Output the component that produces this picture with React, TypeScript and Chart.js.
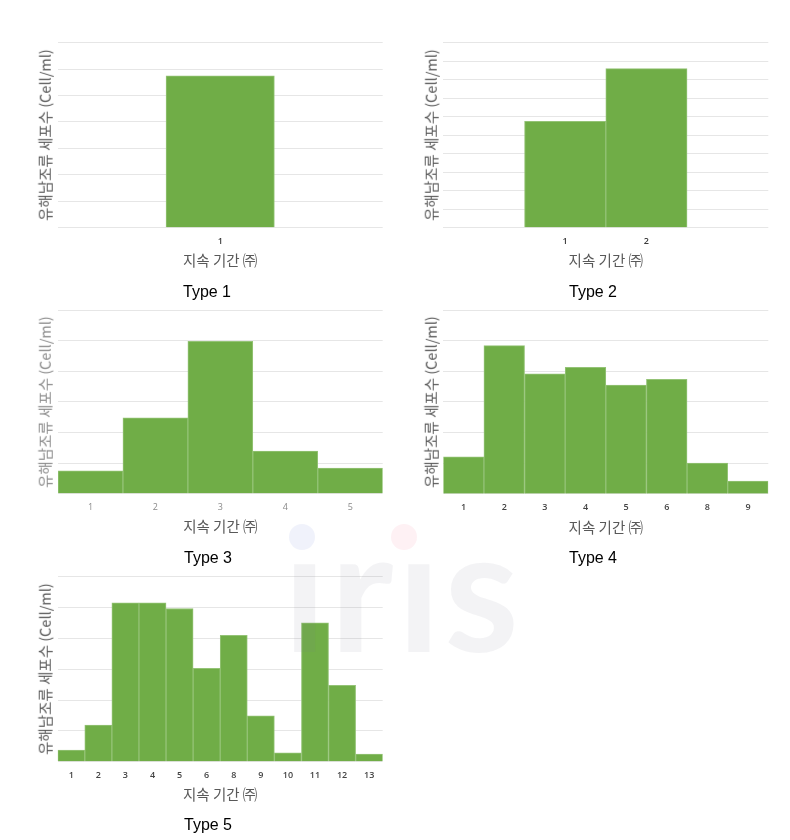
import React, { useEffect, useRef } from 'react';
import { Chart, registerables } from 'chart.js';

Chart.register(...registerables);

const Y_TITLE = '유해남조류 세포수 (Cell/ml)';
const X_TITLE = '지속 기간 ㈜';

const TYPE1_LABELS = ['', '1', ''];
const TYPE1_VALUES = [null, 5.75, null];

const TYPE2_LABELS = ['', '1', '2', ''];
const TYPE2_VALUES = [null, 5.75, 8.6, null];

const TYPE3_LABELS = ['1', '2', '3', '4', '5'];
const TYPE3_VALUES = [0.75, 2.48, 4.98, 1.39, 0.84];

const TYPE4_LABELS = ['1', '2', '3', '4', '5', '6', '8', '9'];
const TYPE4_VALUES = [1.21, 4.84, 3.92, 4.13, 3.55, 3.74, 1.01, 0.42];

const TYPE5_LABELS = ['1', '2', '3', '4', '5', '6', '8', '9', '10', '11', '12', '13'];
const TYPE5_VALUES = [0.38, 1.19, 5.15, 5.15, 4.97, 3.03, 4.1, 1.49, 0.29, 4.5, 2.48, 0.25];

const Y_MAX = [7, 10, 6, 6, 6];
const PANEL_TITLES = ['Type 1', 'Type 2', 'Type 3', 'Type 4', 'Type 5'];

type Plot = { L: number; T: number; R: number; B: number };

const PANELS: {
  labels: string[];
  values: (number | null)[];
  yMax: number;
  plot: Plot;
  title: string;
  tx: number;
  ty: number;
  tickColor: string;
  tickWeight: number;
  yTitleColor: string;
}[] = [
  { labels: TYPE1_LABELS, values: TYPE1_VALUES, yMax: Y_MAX[0], plot: { L: 57.7, T: 42.7, R: 382.7, B: 227.7 }, title: PANEL_TITLES[0], tx: 207, ty: 292, tickColor: '#3a3a3a', tickWeight: 600, yTitleColor: '#595959' },
  { labels: TYPE2_LABELS, values: TYPE2_VALUES, yMax: Y_MAX[1], plot: { L: 443.3, T: 42.7, R: 768.3, B: 227.7 }, title: PANEL_TITLES[1], tx: 593, ty: 292, tickColor: '#3a3a3a', tickWeight: 600, yTitleColor: '#595959' },
  { labels: TYPE3_LABELS, values: TYPE3_VALUES, yMax: Y_MAX[2], plot: { L: 58, T: 310, R: 382.7, B: 493.7 }, title: PANEL_TITLES[2], tx: 208, ty: 558, tickColor: '#8a8a8a', tickWeight: 400, yTitleColor: '#8c8c8c' },
  { labels: TYPE4_LABELS, values: TYPE4_VALUES, yMax: Y_MAX[3], plot: { L: 443.3, T: 310, R: 768.3, B: 494 }, title: PANEL_TITLES[3], tx: 593, ty: 558, tickColor: '#444', tickWeight: 600, yTitleColor: '#595959' },
  { labels: TYPE5_LABELS, values: TYPE5_VALUES, yMax: Y_MAX[4], plot: { L: 57.7, T: 576.7, R: 382.7, B: 761.7 }, title: PANEL_TITLES[4], tx: 208, ty: 825, tickColor: '#444', tickWeight: 600, yTitleColor: '#595959' },
];

const AXIS_TITLE_FONT = "'Noto Sans CJK KR', 'Noto Sans', sans-serif";
const TICK_PAD = 8;
const X_AXIS_H = 2 * TICK_PAD + 9 * 1.2;

function BarPanel(p: (typeof PANELS)[number]) {
  const ref = useRef<HTMLCanvasElement>(null);
  const { plot } = p;
  const cl = Math.round(plot.L - 10);
  const ct = Math.round(plot.T - 10);
  const cr = Math.round(plot.R + 10);
  const cb = Math.round(plot.B + 40);
  const w = cr - cl;
  const h = cb - ct;
  useEffect(() => {
    const chart = new Chart(ref.current as HTMLCanvasElement, {
      type: 'bar',
      data: {
        labels: p.labels,
        datasets: [
          {
            data: p.values as any,
            backgroundColor: '#70ad47',
            borderColor: '#94c376',
            borderWidth: 1,
            barPercentage: 1,
            categoryPercentage: 1,
          },
        ],
      },
      options: {
        animation: false,
        responsive: false,
        maintainAspectRatio: false,
        layout: {
          padding: {
            left: plot.L - cl,
            top: plot.T - ct,
            right: cr - plot.R,
            bottom: cb - (plot.B + X_AXIS_H),
          },
        },
        plugins: { legend: { display: false }, tooltip: { enabled: false } },
        scales: {
          x: {
            grid: { display: false, drawTicks: false },
            border: { display: false },
            ticks: {
              padding: TICK_PAD,
              color: p.tickColor,
              font: { family: "'Open Sans', sans-serif", size: 9, weight: p.tickWeight as any },
            },
            title: { display: false },
          },
          y: {
            min: 0,
            max: p.yMax,
            ticks: { display: false, stepSize: 1 },
            grid: { color: '#e6e6e6', lineWidth: 1, drawTicks: false },
            border: { display: false },
            title: { display: false },
          },
        },
      },
    });
    return () => chart.destroy();
  }, []);
  const textBase: React.CSSProperties = {
    position: 'absolute',
    fontFamily: AXIS_TITLE_FONT,
    fontSize: 14.5,
    lineHeight: 1,
    whiteSpace: 'pre',
  };
  return (
    <>
      <canvas
        ref={ref}
        width={w}
        height={h}
        style={{ position: 'absolute', left: cl, top: ct, width: w, height: h }}
      />
      <div
        style={{
          ...textBase,
          left: plot.L - 12.7,
          top: (plot.T + plot.B) / 2,
          color: p.yTitleColor,
          transform: 'translate(-50%, -50%) rotate(-90deg)',
        }}
      >
        {Y_TITLE}
      </div>
      <div
        style={{
          ...textBase,
          left: (plot.L + plot.R) / 2,
          top: plot.B + 32.5,
          color: '#595959',
          transform: 'translate(-50%, -50%)',
        }}
      >
        {X_TITLE}
      </div>
      <div
        style={{
          position: 'absolute',
          left: p.tx,
          top: p.ty,
          transform: 'translate(-50%, -50%)',
          fontFamily: "'Liberation Sans', Arial, sans-serif",
          fontSize: 16,
          lineHeight: 1,
          color: '#000',
          whiteSpace: 'pre',
        }}
      >
        {p.title}
      </div>
    </>
  );
}

export default function App() {
  return (
    <div style={{ position: 'absolute', left: 0, top: 0, width: 790, height: 840, background: '#fff', overflow: 'hidden' }}>
      {PANELS.map((p, i) => (
        <BarPanel key={i} {...p} />
      ))}
      <div
        style={{
          position: 'absolute',
          left: 283,
          top: 501,
          fontFamily: 'Lato, sans-serif',
          fontWeight: 700,
          fontSize: 170,
          lineHeight: 1,
          letterSpacing: 3.7,
          color: 'rgba(120,120,140,0.09)',
          pointerEvents: 'none',
          whiteSpace: 'pre',
        }}
      >
        ırıs
      </div>
      <div style={{ position: 'absolute', left: 289, top: 524, width: 26, height: 26, borderRadius: 13, background: 'rgba(110,130,220,0.1)', pointerEvents: 'none' }} />
      <div style={{ position: 'absolute', left: 391, top: 524, width: 26, height: 26, borderRadius: 13, background: 'rgba(240,80,110,0.08)', pointerEvents: 'none' }} />
    </div>
  );
}
